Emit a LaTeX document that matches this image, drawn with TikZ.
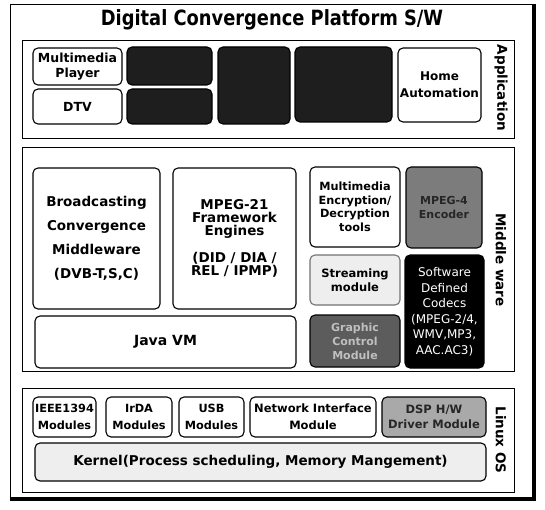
\documentclass[tikz,border=0pt]{standalone}
\usepackage{fontspec}
\usepackage{graphicx}
\setmainfont{DejaVu Sans}
\newcommand\myfs[2]{\fontsize{#1}{#2}\selectfont}
\definecolor{darkbox}{HTML}{1E1E1E}
\definecolor{midgray}{HTML}{7C7C7C}
\definecolor{gfxgray}{HTML}{5C5C5C}
\definecolor{dspgray}{HTML}{A9A9A9}
\definecolor{lightbg}{HTML}{EEEEEE}
\tikzset{
  panel/.style={draw=black, line width=0.9pt, inner sep=0pt},
  bx/.style={draw=black, rounded corners=5pt, line width=1.1pt, fill=white, inner sep=0pt, align=center},
  darkbx/.style={bx, fill=darkbox},
  lbl/.style={rotate=-90, font=\myfs{13.5}{16}\bfseries, inner sep=0pt},
}
\begin{document}
\begin{tikzpicture}[x=1pt,y=-1pt]
\useasboundingbox (0,0) rectangle (545,510);
\fill[white] (0,0) rectangle (545,510);
% outer frame with shadow edges
\draw[line width=0.8pt] (10,4) rectangle (534,499);
\draw[line width=3.2pt] (534,4) -- (534,499) -- (10,499);
\node[inner sep=0pt, font=\myfs{21}{24}\bfseries] (title) at (272,20) {\scalebox{0.85}[1]{Digital Convergence Platform S/W}};

% Application panel
\node[panel, minimum width=492pt, minimum height=98pt] (app) at (268,89) {};
\node[bx, minimum width=89pt, minimum height=37pt, font=\myfs{12.5}{15}\bfseries] (mp) at (77.5,66.5) {Multimedia\\Player};
\node[bx, minimum width=89pt, minimum height=35pt, font=\myfs{12.5}{15}\bfseries] (dtv) at (77.5,106.5) {DTV};
\node[darkbx, minimum width=85pt, minimum height=38pt] (d2a) at (169.5,66) {};
\node[darkbx, minimum width=85pt, minimum height=35pt] (d2b) at (169.5,106.5) {};
\node[darkbx, minimum width=72pt, minimum height=77pt] (d3) at (254,85.5) {};
\node[darkbx, minimum width=97pt, minimum height=75pt] (d4) at (343.5,84.5) {};
\node[bx, minimum width=83pt, minimum height=74pt, font=\myfs{12}{17}\bfseries] (ha) at (439.5,85) {Home\\Automation};
\node[lbl] (applbl) at (501,88) {Application};

% Middleware panel
\node[panel, minimum width=492pt, minimum height=224pt] (mid) at (268,259) {};
\node[bx, minimum width=127pt, minimum height=141pt, font=\myfs{13.5}{24}\bfseries] (bcm) at (96.5,238.5) {Broadcasting\\Convergence\\Middleware\\(DVB-T,S,C)};
\node[bx, minimum width=123pt, minimum height=141pt, font=\myfs{13.5}{13}\bfseries] (mpeg21) at (234.5,238.5) {MPEG-21\\Framework\\Engines\\[13pt](DID / DIA /\\REL / IPMP)};
\node[bx, minimum width=90pt, minimum height=80pt, font=\myfs{11.3}{13.5}\bfseries] (enc) at (355,207) {Multimedia\\Encryption/\\Decryption\\tools};
\node[bx, fill=midgray, minimum width=76pt, minimum height=81pt, font=\myfs{11}{13.5}\bfseries, text=black!85] (mpeg4) at (444,207.5) {MPEG-4\\Encoder};
\node[bx, draw=black!55, fill=lightbg, minimum width=90pt, minimum height=50pt, font=\myfs{11.5}{14}\bfseries] (stream) at (355,280) {Streaming\\module};
\node[bx, fill=black, text=white, minimum width=79pt, minimum height=113pt, font=\myfs{12}{15.5}] (sdc) at (444.5,311.5) {Software\\Defined\\Codecs\\(MPEG-2/4,\\WMV,MP3,\\AAC.AC3)};
\node[bx, minimum width=261pt, minimum height=52pt, font=\myfs{14}{16}\bfseries] (java) at (165.5,342) {Java VM};
\node[bx, fill=gfxgray, text=black!25, minimum width=90pt, minimum height=52pt, font=\myfs{11}{14}\bfseries] (gfx) at (355,341) {Graphic\\Control\\Module};
\node[lbl] (midlbl) at (501,260) {Middle ware};

% Linux OS panel
\node[panel, minimum width=492pt, minimum height=104pt] (linux) at (268,440) {};
\node[bx, minimum width=63pt, minimum height=40pt, font=\myfs{11.3}{17}\bfseries] (ieee) at (64.5,417) {IEEE1394\\Modules};
\node[bx, minimum width=66pt, minimum height=40pt, font=\myfs{11.3}{17}\bfseries] (irda) at (139,417) {IrDA\\Modules};
\node[bx, minimum width=65pt, minimum height=40pt, font=\myfs{11.3}{17}\bfseries] (usb) at (211.5,417) {USB\\Modules};
\node[bx, minimum width=126pt, minimum height=40pt, font=\myfs{11.5}{17}\bfseries] (net) at (313,417) {Network Interface\\Module};
\node[bx, fill=dspgray, minimum width=104pt, minimum height=40pt, font=\myfs{11.5}{14.5}\bfseries, text=black!85] (dsp) at (434,417) {DSP H/W\\Driver Module};
\node[bx, fill=lightbg, minimum width=451pt, minimum height=38pt, font=\myfs{13.5}{16}\bfseries] (kernel) at (260.5,462) {Kernel(Process scheduling, Memory Mangement)};
\node[lbl] (linlbl) at (501,440) {Linux OS};
\end{tikzpicture}
\end{document}
